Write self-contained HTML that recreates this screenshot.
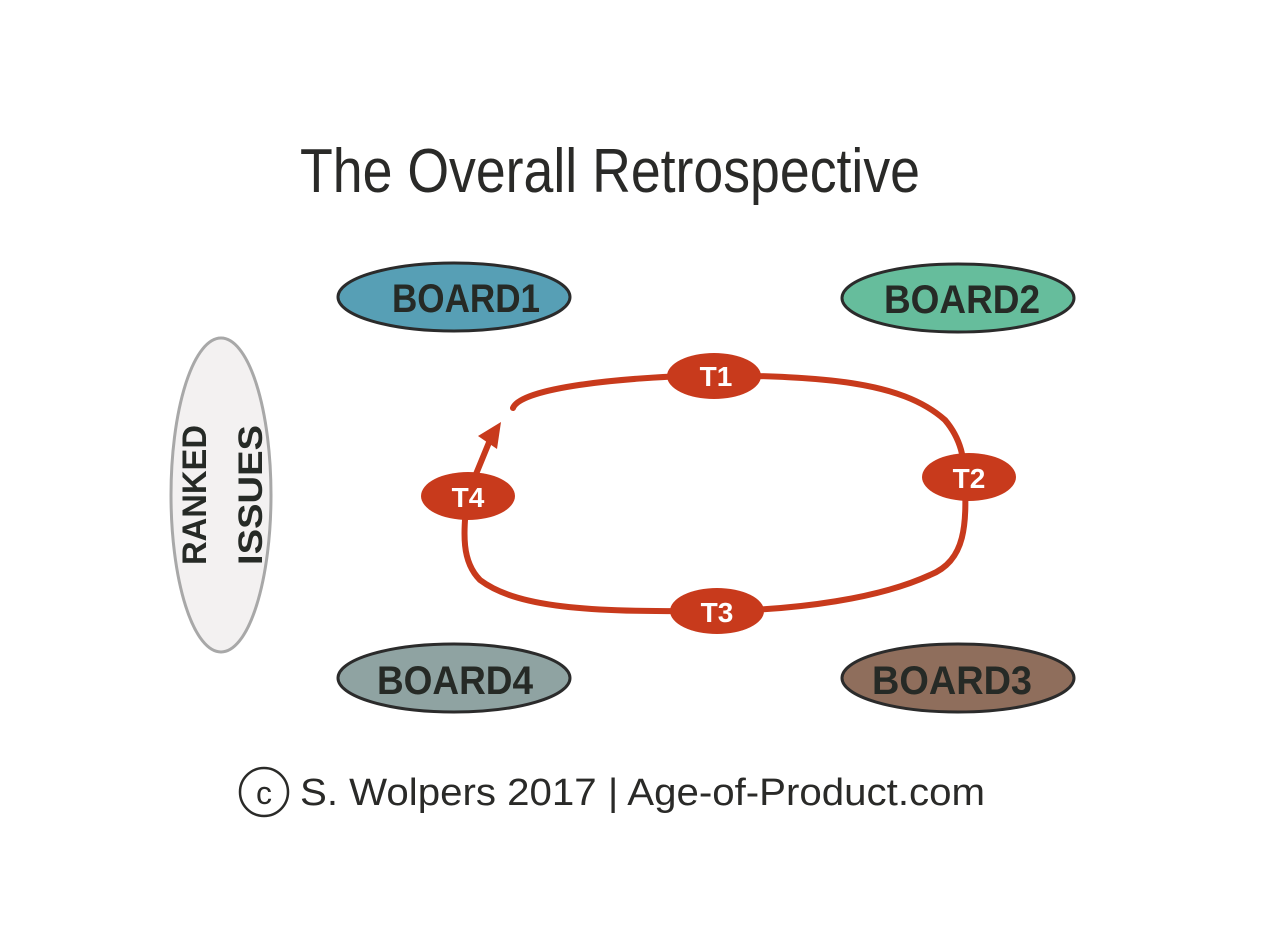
<!DOCTYPE html>
<html><head><meta charset="utf-8"><style>
html,body{margin:0;padding:0;background:#fff}
svg{display:block}
</style></head><body>
<svg width="1270" height="952" viewBox="0 0 1270 952" xmlns="http://www.w3.org/2000/svg">
<rect width="1270" height="952" fill="#fff"/>
<text x="610" y="192" text-anchor="middle" font-family="Liberation Sans, sans-serif" font-size="62" fill="#2a2a28" textLength="620" lengthAdjust="spacingAndGlyphs">The Overall Retrospective</text>

<g stroke="#2b2b2b" stroke-width="3">
<ellipse cx="454" cy="297" rx="116" ry="34" fill="#579fb5"/>
<ellipse cx="958" cy="298" rx="116" ry="34" fill="#66bd9c"/>
<ellipse cx="454" cy="678" rx="116" ry="34" fill="#8fa3a2"/>
<ellipse cx="958" cy="678" rx="116" ry="34" fill="#8f6e5c"/>
</g>
<ellipse cx="221" cy="495" rx="50" ry="157" fill="#f3f1f1" stroke="#a8a8a8" stroke-width="3"/>

<g font-family="Liberation Sans, sans-serif" font-weight="bold" fill="#262a26" font-size="40">
<text x="466" y="312" text-anchor="middle" textLength="148" lengthAdjust="spacingAndGlyphs">BOARD1</text>
<text x="962" y="313" text-anchor="middle" textLength="156" lengthAdjust="spacingAndGlyphs">BOARD2</text>
<text x="455" y="694" text-anchor="middle" textLength="156" lengthAdjust="spacingAndGlyphs">BOARD4</text>
<text x="952" y="694" text-anchor="middle" textLength="160" lengthAdjust="spacingAndGlyphs">BOARD3</text>
<text transform="translate(206,495) rotate(-90)" text-anchor="middle" font-size="34" textLength="140" lengthAdjust="spacingAndGlyphs">RANKED</text>
<text transform="translate(262,495) rotate(-90)" text-anchor="middle" font-size="34" textLength="140" lengthAdjust="spacingAndGlyphs">ISSUES</text>
</g>

<g fill="none" stroke="#c83a1c" stroke-width="6" stroke-linecap="round">
<path d="M513,408 C520,390 600,378 714,375 C820,377 900,380 945,420 C962,440 964,460 965,478 C966,520 968,560 930,575 C880,598 800,610 717,611 C600,612 520,610 480,580 C460,560 464,530 467,496 L490,440"/>
</g>
<polygon points="501,422 478,436 497,449" fill="#c83a1c"/>

<g fill="#c83a1c">
<ellipse cx="714" cy="376" rx="47" ry="23"/>
<ellipse cx="969" cy="477" rx="47" ry="24"/>
<ellipse cx="717" cy="611" rx="47" ry="23"/>
<ellipse cx="468" cy="496" rx="47" ry="24"/>
</g>
<g font-family="Liberation Sans, sans-serif" font-weight="bold" fill="#fff" font-size="28" text-anchor="middle">
<text x="716" y="386">T1</text>
<text x="969" y="488">T2</text>
<text x="717" y="622">T3</text>
<text x="468" y="507">T4</text>
</g>

<circle cx="264" cy="792" r="24" fill="none" stroke="#2a2a28" stroke-width="2.5"/>
<text x="264" y="804" text-anchor="middle" font-family="Liberation Sans, sans-serif" font-size="32" fill="#2a2a28">c</text>
<text x="300" y="805" font-family="Liberation Sans, sans-serif" font-size="38" fill="#2a2a28" textLength="685" lengthAdjust="spacingAndGlyphs">S. Wolpers 2017 | Age-of-Product.com</text>
</svg>
</body></html>
